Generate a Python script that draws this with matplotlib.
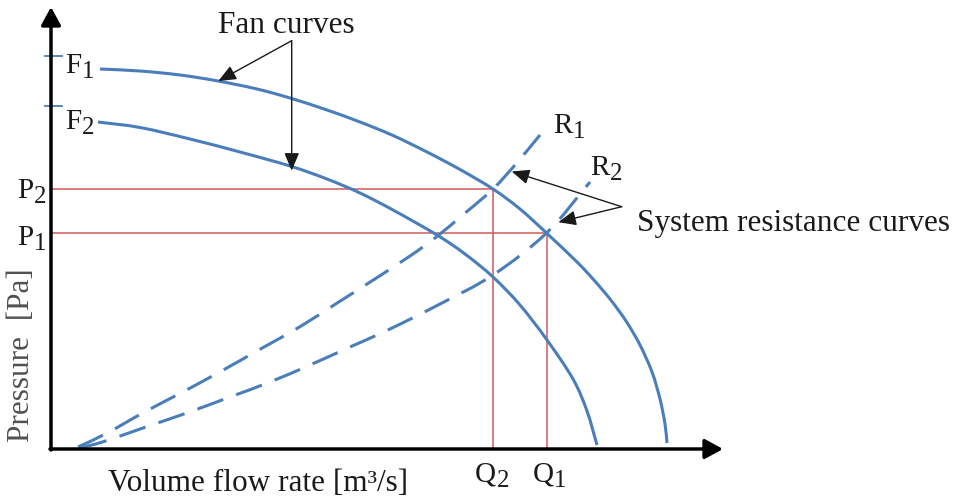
import numpy as np
import matplotlib
matplotlib.use("Agg")
import matplotlib.pyplot as plt
from matplotlib.path import Path
from matplotlib.patches import PathPatch

plt.rcParams['font.family'] = ['Liberation Serif', 'DejaVu Serif']

# Fan characteristics (flow, pressure) in chart units
fan1_flow = [49, 89, 129, 167, 206, 239, 276, 309, 342, 376, 409, 442, 469, 495.5, 526, 542, 559, 575, 589, 601, 609, 614, 616]
fan1_pres = [380, 378, 374, 368, 360, 351, 339, 327, 313.5, 297, 279.5, 260, 240, 216, 187, 170, 150, 128, 104, 77, 50, 25, 6]
fan2_flow = [47, 89, 139, 189, 239, 276, 309, 342, 386, 414, 442, 469, 496, 522, 536, 546]
fan2_pres = [327, 321.5, 310, 297, 283, 270, 256, 239, 214, 195, 172, 144, 109, 70, 38, 4]

# System resistance curves
sys1_flow = [27, 55.7, 94, 132.3, 172.3, 210.7, 249, 285.7, 322.3, 359, 384, 413, 442, 465.7, 489]
sys1_pres = [2, 15.7, 37.3, 57.3, 79, 100.7, 122.3, 145.7, 169, 193, 211, 235, 260, 286, 314]
sys2_flow = [29, 52.3, 95.7, 135.7, 179, 219, 259, 299, 339, 389, 442, 495.5, 539]
sys2_pres = [1, 7.3, 22.3, 36, 52, 67, 84, 102, 120, 145, 174, 216, 267]

# Operating points (Q2, P2) and (Q1, P1)
op_flow = [442, 495.5]
op_pres = [260, 216]
op_names = ['2', '1']

# Shut-off pressure marks for F1 and F2
shutoff_pres = [393.5, 343]

BLUE = '#4a7ebb'
RED = '#d05a5a'
INK = '#1a1a1a'

fig = plt.figure(figsize=(9.6, 5), dpi=100)
ax = fig.add_axes([0, 0, 1, 1])
ax.set_xlim(-51, 909)
ax.set_ylim(-51, 449)
ax.axis('off')


def smooth_path(xs, ys):
    """Catmull-Rom curve through the given points, as cubic Bezier segments."""
    pts = np.column_stack([xs, ys]).astype(float)
    ext = np.vstack([2 * pts[0] - pts[1], pts, 2 * pts[-1] - pts[-2]])
    verts = [pts[0]]
    codes = [Path.MOVETO]
    for i in range(1, len(ext) - 2):
        p0, p1, p2, p3 = ext[i - 1], ext[i], ext[i + 1], ext[i + 2]
        verts += [p1 + (p2 - p0) / 6.0, p2 - (p3 - p1) / 6.0, p2]
        codes += [Path.CURVE4] * 3
    return Path(verts, codes)


def draw_curve(xs, ys, **kw):
    ax.add_patch(PathPatch(smooth_path(xs, ys), fill=False, edgecolor=BLUE,
                           lw=2.2, capstyle='butt', zorder=2, **kw))


# operating point guide lines
for q, p in zip(op_flow, op_pres):
    ax.plot([0, q], [p, p], color=RED, lw=1.1, zorder=1)
    ax.plot([q, q], [0, p], color=RED, lw=1.1, zorder=1)

# fan curves
draw_curve(fan1_flow, fan1_pres)
draw_curve(fan2_flow, fan2_pres)

# system curves
draw_curve(sys1_flow, sys1_pres, linestyle=(0, (9, 4.5)))
draw_curve(sys2_flow, sys2_pres, linestyle=(0, (9, 4.5)))

# shut-off ticks on the pressure axis
for p in shutoff_pres:
    ax.plot([-6, 11], [p, p], color=BLUE, lw=1.3, zorder=2)

# axes with arrow heads
axis_style = '-|>,head_length=0.55,head_width=0.3'
ax.annotate('', xy=(0, 442), xytext=(0, -1),
            arrowprops=dict(arrowstyle=axis_style, color='black', lw=2.5,
                            mutation_scale=20, shrinkA=0, shrinkB=0), zorder=3)
ax.annotate('', xy=(672, 0), xytext=(-1, 0),
            arrowprops=dict(arrowstyle=axis_style, color='black', lw=2.5,
                            mutation_scale=20, shrinkA=0, shrinkB=0), zorder=3)

LABEL_FS = 21
SUB_FS = 18


def sub_label(x, y, letter, digit, color=INK):
    main = ax.text(x, y, letter, fontsize=LABEL_FS, ha='left', va='baseline', color=color)
    ax.annotate(digit, xy=(1, 0), xycoords=main, xytext=(0.5, 1.0),
                textcoords='offset points', fontsize=SUB_FS, ha='left',
                va='baseline', color=color)


sub_label(14, 376, 'F', '1')
sub_label(14, 320, 'F', '2')
sub_label(-34, 251, 'P', op_names[0])
sub_label(-34, 204, 'P', op_names[1])
sub_label(op_flow[0] - 18, -33, 'Q', op_names[0])
sub_label(op_flow[1] - 14, -33, 'Q', op_names[1])
sub_label(502, 316, 'R', '1')
sub_label(539, 274, 'R', '2')

TEXT_FS = 22.5
ax.text(167, 416, 'Fan curves', fontsize=TEXT_FS, ha='left', va='baseline', color=INK)
ax.text(585.7, 218, 'System resistance curves', fontsize=TEXT_FS, ha='left',
        va='baseline', color=INK)
ax.text(57, -42, 'Volume flow rate [m³/s]', fontsize=TEXT_FS, ha='left',
        va='baseline', color=INK)
ax.text(-29, 94, 'Pressure  [Pa]', fontsize=TEXT_FS, ha='center', va='center',
        rotation=90, color='#505050')

# pointer arrows
ptr = dict(arrowstyle='-|>,head_length=0.9,head_width=0.38', color=INK, lw=1.0,
           mutation_scale=12, shrinkA=0, shrinkB=0)
fan_apex = (240.7, 408.3)
tip1_x, tip2_x = 167.3, 240.7
ax.annotate('', xy=(tip1_x, np.interp(tip1_x, fan1_flow, fan1_pres)), xytext=fan_apex,
            arrowprops=ptr, zorder=4)
ax.annotate('', xy=(tip2_x, np.interp(tip2_x, fan2_flow, fan2_pres) - 4), xytext=fan_apex,
            arrowprops=ptr, zorder=4)

sys_apex = (570.7, 242.3)
tip3_x, tip4_x = 460.7, 507.3
ax.annotate('', xy=(tip3_x, np.interp(tip3_x, sys1_flow, sys1_pres) - 3), xytext=sys_apex,
            arrowprops=ptr, zorder=4)
ax.annotate('', xy=(tip4_x, np.interp(tip4_x, sys2_flow, sys2_pres) - 3), xytext=sys_apex,
            arrowprops=ptr, zorder=4)

fig.savefig('out.png', dpi=100)
